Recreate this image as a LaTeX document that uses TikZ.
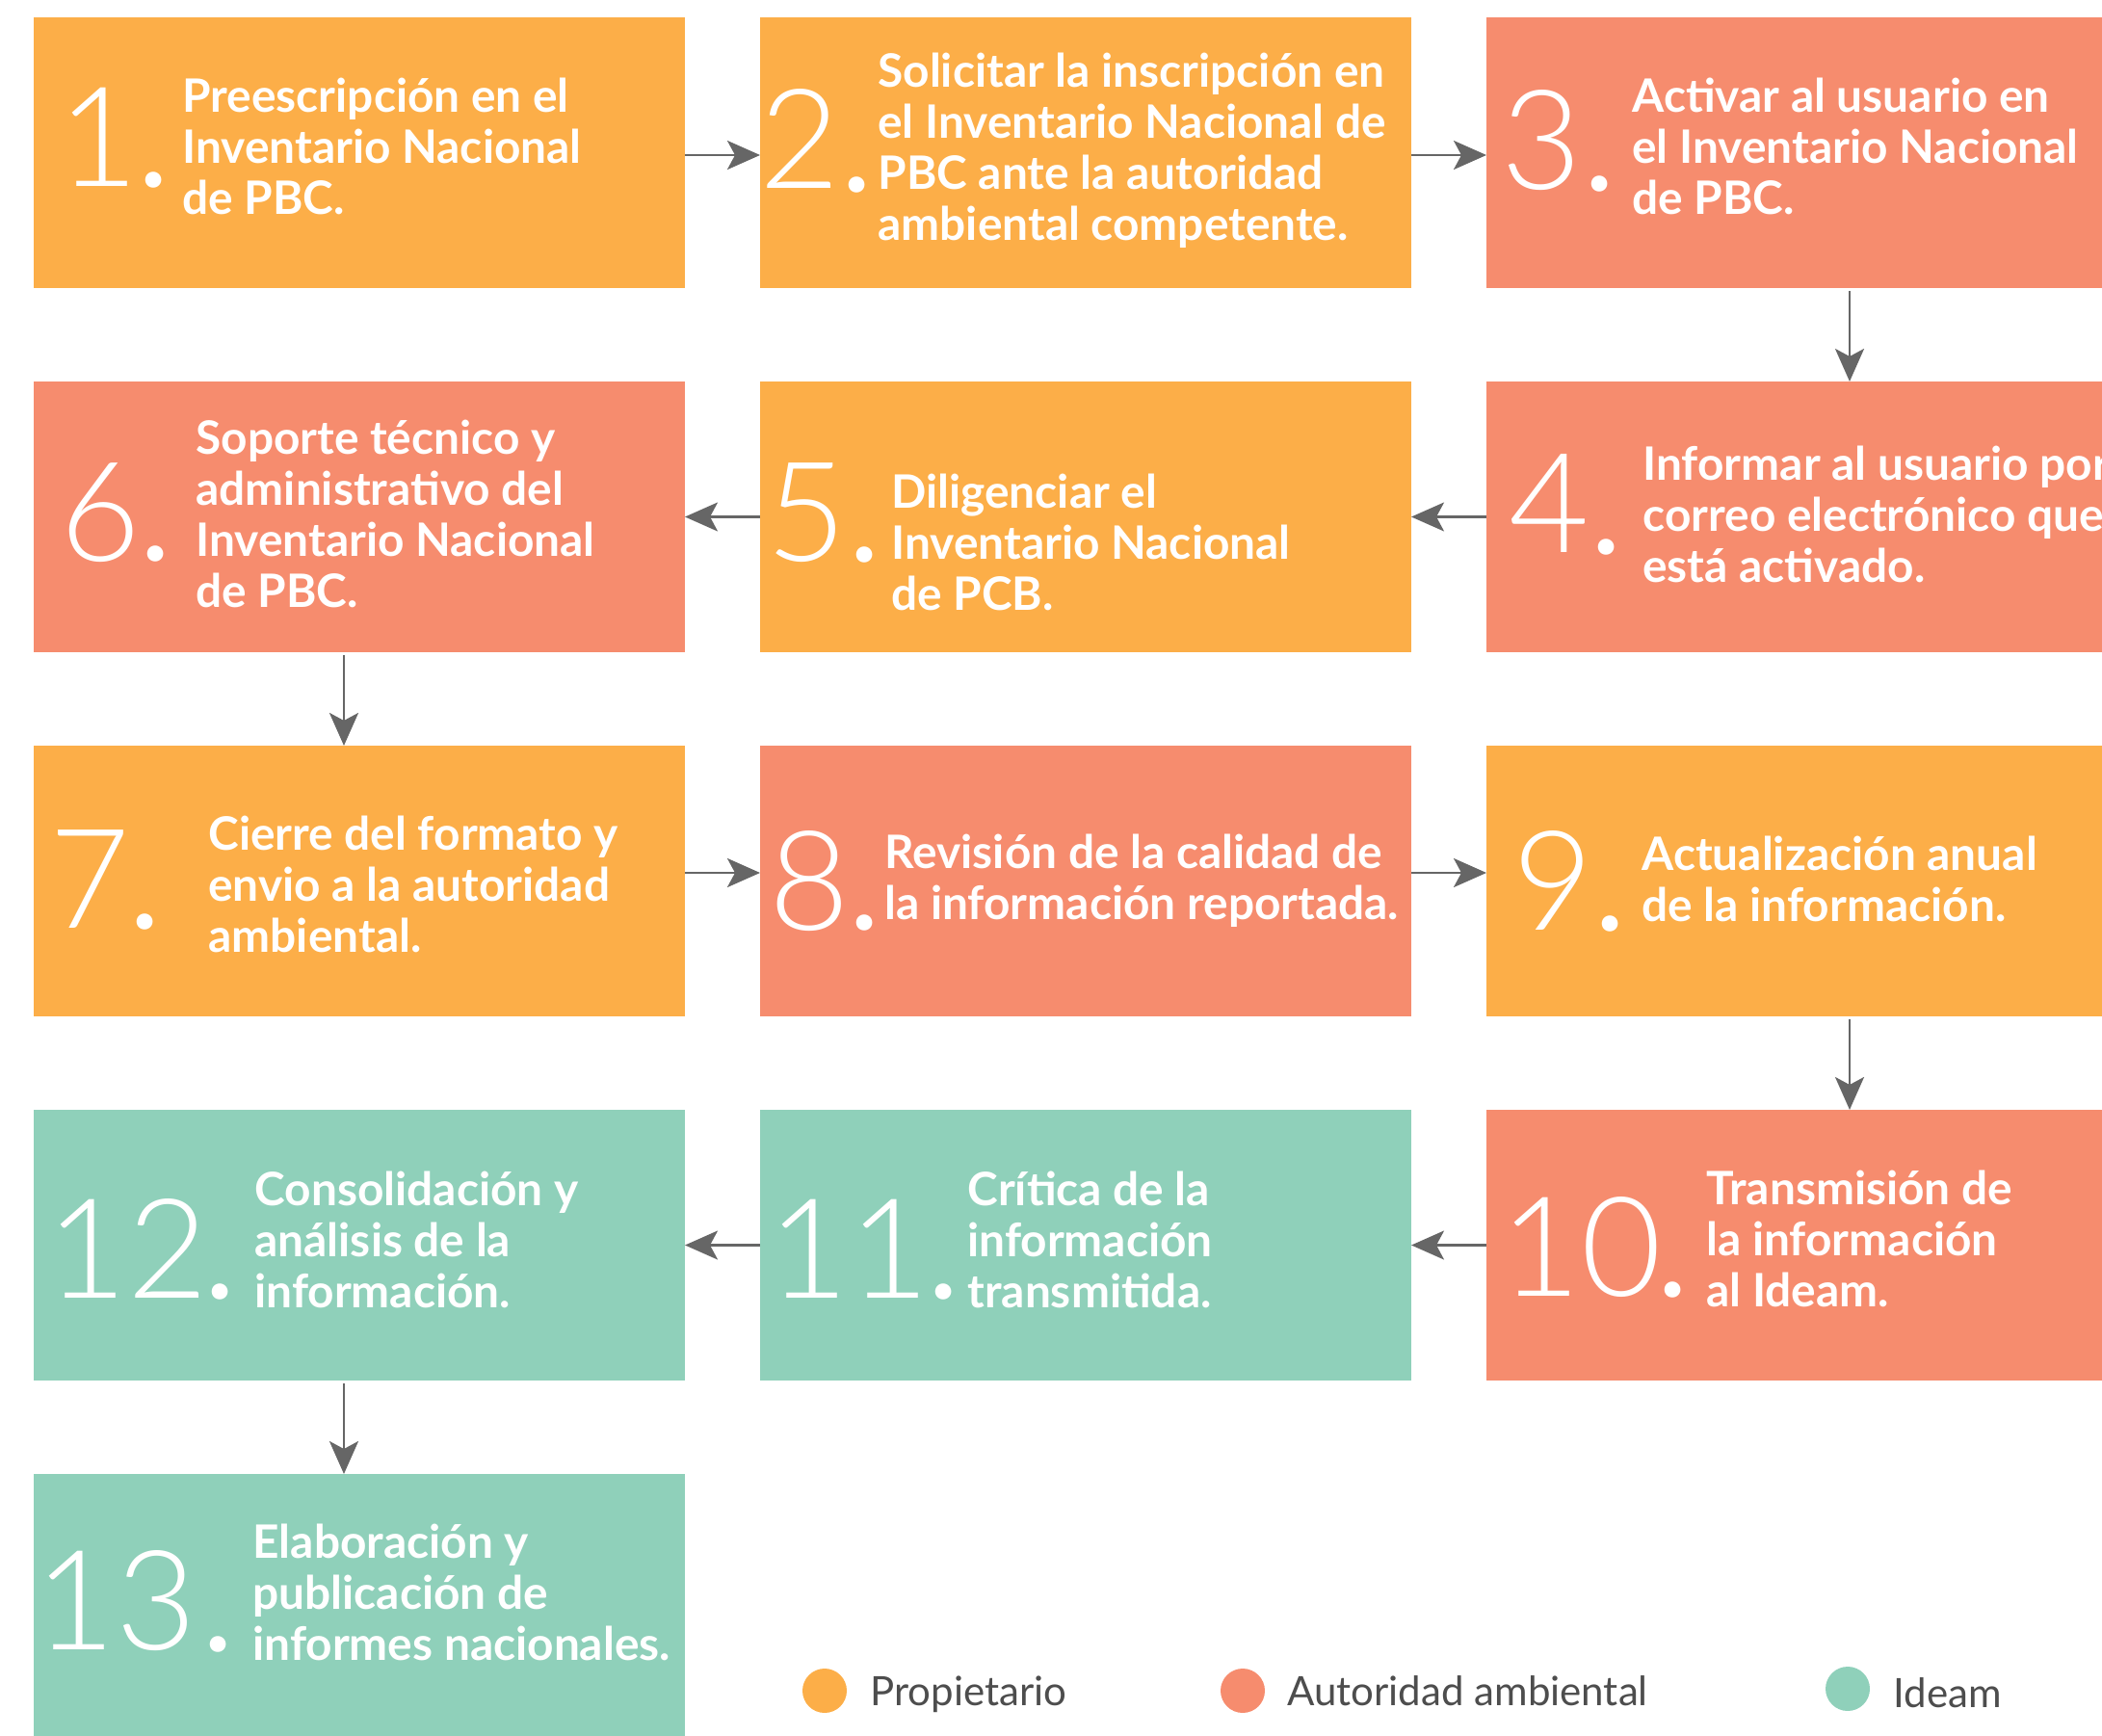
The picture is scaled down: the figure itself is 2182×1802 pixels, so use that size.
\documentclass[tikz,border=0pt]{standalone}
\usepackage{fontspec}
\setmainfont{Lato}
\IfFontExistsTF{Lato Light}{\newfontfamily\numfont{Lato Light}}{\newfontfamily\numfont{Lato Hairline}}
\usetikzlibrary{arrows.meta}
\definecolor{cOrange}{RGB}{252,174,72}
\definecolor{cSalmon}{RGB}{246,140,110}
\definecolor{cTeal}{RGB}{143,208,186}
\definecolor{cArrow}{RGB}{102,102,102}
\definecolor{cLegend}{RGB}{77,77,77}
\newcommand\lns[1]{\vtop{\baselineskip=26.5pt\lineskiplimit=-50pt\lineskip=0pt\halign{##\hfil\cr#1\crcr}}}
\tikzset{
  box/.style={rectangle, inner sep=0pt, outer sep=0pt, anchor=north west, minimum height=140.5pt},
  wa/.style={minimum width=338pt},
  wb/.style={minimum width=377pt},
  num/.style={anchor=base, inner sep=0pt, text=white, font=\fontsize{72}{72}\numfont},
  dotm/.style={anchor=base, inner sep=0pt, text=white, font=\fontsize{55}{55}\selectfont\bfseries},
  txt/.style={anchor=base west, inner sep=0pt, text=white, font=\fontsize{23.9}{26.5}\selectfont\bfseries},
  arr/.style={draw=cArrow, line width=1.3pt, -{Stealth[length=17pt,width=15pt,inset=4pt]}},
  legdot/.style={circle, inner sep=0pt, minimum size=23pt},
  legtxt/.style={anchor=base west, inner sep=0pt, text=cLegend, font=\fontsize{21}{24}\selectfont}
}
\begin{document}
\begin{tikzpicture}[x=0.5pt,y=-0.5pt]
\useasboundingbox (0,0) rectangle (2182,1802);
\clip (0,0) rectangle (2182,1802);
% boxes
\node[box,wa,fill=cOrange] (b1) at (35,18) {};
\node[box,wa,fill=cOrange] (b2) at (789,18) {};
\node[box,wb,fill=cSalmon] (b3) at (1543,18) {};
\node[box,wa,fill=cSalmon] (b6) at (35,396) {};
\node[box,wa,fill=cOrange] (b5) at (789,396) {};
\node[box,wb,fill=cSalmon] (b4) at (1543,396) {};
\node[box,wa,fill=cOrange] (b7) at (35,774) {};
\node[box,wa,fill=cSalmon] (b8) at (789,774) {};
\node[box,wb,fill=cOrange] (b9) at (1543,774) {};
\node[box,wa,fill=cTeal] (b12) at (35,1152) {};
\node[box,wa,fill=cTeal] (b11) at (789,1152) {};
\node[box,wb,fill=cSalmon] (b10) at (1543,1152) {};
\node[box,wa,fill=cTeal] (b13) at (35,1530) {};
% numbers
\node[num] (n1) at (102,194) {1};
\node[num] (n2) at (830,196) {2};
\node[num] (n3) at (1600,197) {3};
\node[num] (n4) at (1608,573) {4};
\node[num] (n5) at (837,582) {5};
\node[num] (n6) at (104,582) {6};
\node[num] (n7) at (93,963) {7};
\node[num] (n8) at (840,965) {8};
\node[num] (n9) at (1612,965) {9};
\node[num] (n10) at (1641,1345) {10};
\node[num] (n11) at (881,1347) {11};
\node[num] (n12) at (132,1347) {12};
\node[num] (n13) at (120,1712) {13};
% dots
\node[dotm] (d1) at (160,195) {.};
\node[dotm] (d2) at (890,200) {.};
\node[dotm] (d3) at (1661,199) {.};
\node[dotm] (d4) at (1668,575) {.};
\node[dotm] (d5) at (898,583) {.};
\node[dotm] (d6) at (162,582) {.};
\node[dotm] (d7) at (151,964) {.};
\node[dotm] (d8) at (898,965) {.};
\node[dotm] (d9) at (1672,966) {.};
\node[dotm] (d10) at (1737,1346) {.};
\node[dotm] (d11) at (980,1348) {.};
\node[dotm] (d12) at (229,1348) {.};
\node[dotm] (d13) at (227,1714) {.};
% texts
\node[txt] (t1) at (189,117) {\lns{Preescripción en el\cr Inventario Nacional\cr de PBC.}};
\node[txt] (t2) at (911,91) {\lns{Solicitar la inscripción en\cr el Inventario Nacional de\cr PBC ante la autoridad\cr ambiental competente.}};
\node[txt] (t3) at (1694,117) {\lns{Activar al usuario en\cr el Inventario Nacional\cr de PBC.}};
\node[txt] (t4) at (1705,498) {\lns{Informar al usuario por\cr correo electrónico que\cr está activado.}};
\node[txt] (t5) at (925,527) {\lns{Diligenciar el\cr Inventario Nacional\cr de PCB.}};
\node[txt] (t6) at (203,472) {\lns{Soporte técnico y\cr administrativo del\cr Inventario Nacional\cr de PBC.}};
\node[txt] (t7) at (216,882) {\lns{Cierre del formato y\cr envio a la autoridad\cr ambiental.}};
\node[txt] (t8) at (918,901) {\lns{Revisión de la calidad de\cr la información reportada.}};
\node[txt] (t9) at (1704,903) {\lns{Actualización anual\cr de la información.}};
\node[txt] (t10) at (1771,1250) {\lns{Transmisión de\cr la información\cr al Ideam.}};
\node[txt] (t11) at (1004,1251) {\lns{Crítica de la\cr información\cr transmitida.}};
\node[txt] (t12) at (264,1251) {\lns{Consolidación y\cr análisis de la\cr información.}};
\node[txt] (t13) at (262,1617) {\lns{Elaboración y\cr publicación de\cr informes nacionales.}};
% connectors
\draw[arr] ([yshift=-1.25pt]b1.east) -- ([yshift=-1.25pt]b2.west);
\draw[arr] ([yshift=-1.25pt]b2.east) -- ([yshift=-1.25pt]b3.west);
\draw[arr,shorten <=1.5pt] (b3.south) -- (b4.north);
\draw[arr] (b4.west) -- (b5.east);
\draw[arr] (b5.west) -- (b6.east);
\draw[arr,shorten <=1.5pt] ([xshift=-8pt]b6.south) -- ([xshift=-8pt]b7.north);
\draw[arr] ([yshift=4.25pt]b7.east) -- ([yshift=4.25pt]b8.west);
\draw[arr] ([yshift=4.25pt]b8.east) -- ([yshift=4.25pt]b9.west);
\draw[arr,shorten <=1.5pt] (b9.south) -- (b10.north);
\draw[arr] (b10.west) -- (b11.east);
\draw[arr] (b11.west) -- (b12.east);
\draw[arr,shorten <=1.5pt] ([xshift=-8pt]b12.south) -- ([xshift=-8pt]b13.north);
% legend
\node[legdot,fill=cOrange] (l1) at (856,1755) {};
\node[legtxt] (lt1) at (903,1770) {Propietario};
\node[legdot,fill=cSalmon] (l2) at (1290,1755) {};
\node[legtxt] (lt2) at (1336,1770) {Autoridad ambiental};
\node[legdot,fill=cTeal] (l3) at (1918,1753) {};
\node[legtxt] (lt3) at (1965,1772) {Ideam};
\end{tikzpicture}
\end{document}
